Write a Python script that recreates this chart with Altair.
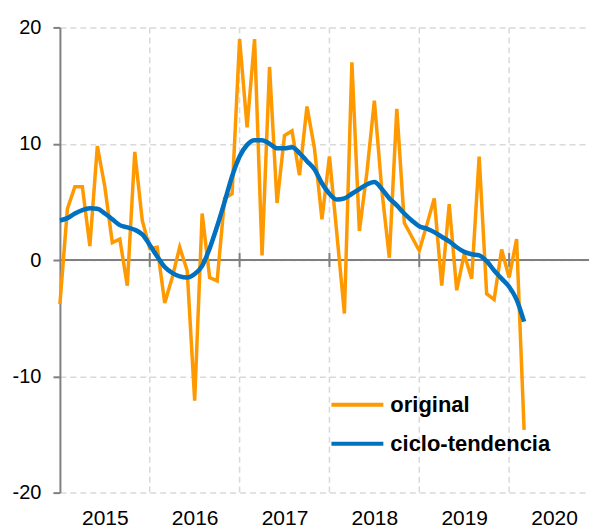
import altair as alt
import pandas as pd

original = [-3.8, 4.4, 6.3, 6.3, 1.2, 9.8, 6.3, 1.5, 1.8, -2.2, 9.3, 3.4,
            1.0, 1.1, -3.7, -1.5, 1.1, -0.9, -12.1, 4.0, -1.5, -1.8, 5.3, 5.7,
            19.0, 11.4, 19.0, 0.4, 16.6, 4.9, 10.7, 11.1, 7.3, 13.2, 9.6, 3.5,
            8.9, 2.2, -4.6, 17.0, 2.5, 7.5, 13.7, 6.0, 0.2, 13.0, 3.2, 2.0,
            0.8, 3.0, 5.3, -2.2, 4.8, -2.6, 0.5, -1.6, 8.9, -2.9, -3.4, 0.9,
            -1.5, 1.8, -14.6]
tendencia = [3.4, 3.6, 4.0, 4.3, 4.45, 4.4, 4.0, 3.5, 3.0, 2.8, 2.6, 2.2,
             1.3, 0.3, -0.6, -1.1, -1.4, -1.5, -1.2, -0.5, 1.0, 2.9, 5.0, 7.2,
             8.9, 9.9, 10.3, 10.3, 10.0, 9.6, 9.6, 9.7, 9.2, 8.5, 7.8, 6.6,
             5.7, 5.2, 5.3, 5.7, 6.1, 6.5, 6.7, 6.1, 5.3, 4.7, 4.0, 3.4,
             2.9, 2.7, 2.4, 2.0, 1.6, 1.1, 0.7, 0.5, 0.4, -0.1, -0.9, -1.6,
             -2.3, -3.4, -5.3]
years = ["2015", "2016", "2017", "2018", "2019", "2020"]
y_ticks = [-20, -10, 0, 10, 20]
series_names = ["original", "ciclo-tendencia"]
colors = ["#FF9900", "#0070C0"]

n = len(original)
months = list(range(n))
df_o = pd.DataFrame({"mes": months, "valor": original, "serie": series_names[0]})
df_t = pd.DataFrame({"mes": months, "valor": tendencia, "serie": series_names[1]})
bounds = pd.DataFrame({"m": [12 * i for i in range(1, len(years))]})
zero_df = pd.DataFrame({"y": [0]})

xscale = alt.Scale(domain=[0, 70.67], nice=False, zero=False)
yscale = alt.Scale(domain=[-20, 20], nice=False)

mid_vals = [6 + 12 * i for i in range(len(years))]
label_expr = f"{years}[round((datum.value - 6) / 12)]"

x_axis = alt.Axis(values=mid_vals, labelExpr=label_expr, grid=False, ticks=False,
                  domain=False, labelFontSize=21, labelColor="black",
                  labelPadding=15, title=None, labelFont="Liberation Sans")
y_axis = alt.Axis(values=y_ticks, labelExpr="toString(datum.value)", grid=True,
                  gridDash=[6, 4], gridColor="#D9D9D9",
                  gridWidth=1.5, domainColor="#808080", domainWidth=2,
                  tickColor="#808080", tickWidth=2, tickSize=7, labelFontSize=20,
                  labelColor="black", labelPadding=12, title=None,
                  labelFont="Liberation Sans")

color = alt.Color("serie:N", scale=alt.Scale(domain=series_names, range=colors),
                  legend=alt.Legend(orient="none", legendX=270, legendY=350, title=None,
                                    symbolType="stroke", symbolSize=2704,
                                    symbolStrokeWidth=4, labelFontSize=22,
                                    labelFontWeight="bold", labelFont="Liberation Sans",
                                    labelColor="black", rowPadding=-14, labelOffset=5,
                                    labelLimit=300))

vgrid = alt.Chart(bounds).mark_rule(color="#D9D9D9", strokeDash=[6, 4], strokeWidth=1.5).encode(
    x=alt.X("m:Q", scale=xscale, axis=x_axis))
zero = alt.Chart(zero_df).mark_rule(color="#808080", strokeWidth=2).encode(
    y=alt.Y("y:Q", scale=yscale, axis=y_axis))
zticks = alt.Chart(bounds).mark_rule(color="#808080", strokeWidth=2).encode(
    x=alt.X("m:Q", scale=xscale), y=alt.datum(-0.6), y2=alt.datum(0.6))

line_o = alt.Chart(df_o).mark_line(strokeWidth=3.5).encode(
    x=alt.X("mes:Q", scale=xscale), y=alt.Y("valor:Q", scale=yscale), color=color)
line_t = alt.Chart(df_t).mark_line(strokeWidth=4.5, interpolate="monotone").encode(
    x=alt.X("mes:Q", scale=xscale), y=alt.Y("valor:Q", scale=yscale), color=color)

chart = alt.layer(vgrid, zero, zticks, line_o, line_t).properties(
    width=530, height=466,
    autosize=alt.AutoSizeParams(type="none"),
    padding={"left": 52, "top": 19, "right": 0, "bottom": 36},
).configure_view(stroke=None)

chart.save("out.html", embed_options={"renderer": "svg", "actions": False})
